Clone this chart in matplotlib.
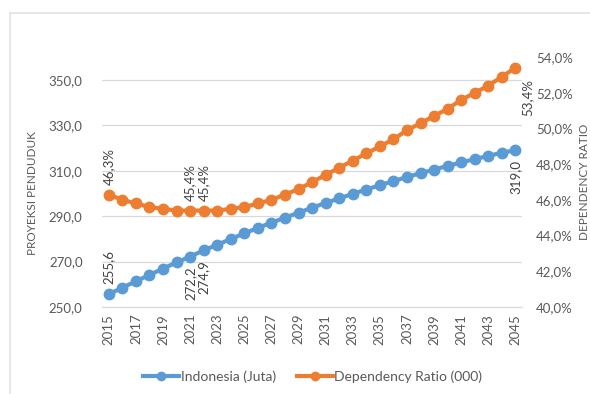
import matplotlib.pyplot as plt
from matplotlib.ticker import FuncFormatter
from matplotlib.lines import Line2D
from matplotlib.patches import Rectangle

plt.rcParams['font.family'] = ['Lato', 'DejaVu Sans']

years = list(range(2015, 2046))

# proyeksi penduduk Indonesia (juta jiwa)
penduduk = [255.6, 258.5, 261.3, 264.1, 266.9, 269.6, 272.2, 274.9, 277.4, 279.9,
            282.4, 284.8, 287.1, 289.3, 291.5, 293.7, 295.8, 297.8, 299.8, 301.7,
            303.6, 305.4, 307.2, 308.9, 310.5, 312.1, 313.6, 315.1, 316.5, 317.9,
            319.0]

# dependency ratio (%)
dep_ratio = [46.3, 46.0, 45.8, 45.6, 45.5, 45.4, 45.4, 45.4, 45.4, 45.5,
             45.6, 45.8, 46.0, 46.3, 46.6, 47.0, 47.4, 47.8, 48.2, 48.6,
             49.0, 49.4, 49.9, 50.3, 50.7, 51.1, 51.6, 52.0, 52.4, 52.9,
             53.4]

# which points get a value label, and where (above / below)
pend_labels = {2015: 'above', 2021: 'below', 2022: 'below', 2045: 'below'}
dep_labels = {2015: 'above', 2021: 'above', 2022: 'above', 2045: 'right'}

blue = '#5B9BD5'
orange = '#ED7D31'
grey = '#595959'

def comma(v, dec=1):
    return ('{:.%df}' % dec).format(v).replace('.', ',')

fig = plt.figure(figsize=(5.9, 3.94), dpi=100)
fig.patch.set_facecolor('white')
fig.patches.append(Rectangle((10 / 590, -0.1), 1.2, 1 - 13 / 394 + 0.1,
                             transform=fig.transFigure, fill=False,
                             edgecolor='#e3e3e3', lw=1.2))

ax = fig.add_axes([0.173, 0.221, 0.712, 0.634])
ax2 = ax.twinx()

ax.plot(years, penduduk, color=blue, lw=3, marker='o', ms=7.5, zorder=3)
ax2.plot(years, dep_ratio, color=orange, lw=3, marker='o', ms=7.5, zorder=3)

ax.set_xlim(2014.5, 2045.5)
ax.set_ylim(250, 360)
ax.set_yticks([250, 270, 290, 310, 330, 350])
ax2.set_ylim(40, 54)
ax2.set_yticks([40, 42, 44, 46, 48, 50, 52, 54])
ax.set_xticks(years[::2])
ax.set_xticklabels([str(y) for y in years[::2]], rotation=90)

ax.yaxis.set_major_formatter(FuncFormatter(lambda v, p: comma(v)))
ax2.yaxis.set_major_formatter(FuncFormatter(lambda v, p: comma(v) + '%'))

ax.grid(axis='y', color='#d9d9d9', lw=0.9)
ax.set_axisbelow(True)
for a in (ax, ax2):
    for s in a.spines.values():
        s.set_visible(False)
    a.tick_params(length=0, colors=grey, labelsize=9.5)
ax.spines['bottom'].set_visible(True)
ax.spines['bottom'].set_color('#d9d9d9')
ax.tick_params(axis='x', pad=5)
ax.tick_params(axis='y', pad=14)
ax2.tick_params(axis='y', pad=10)

fig.text(32 / 590, 1 - 193 / 394, 'PROYEKSI PENDUDUK', rotation=90,
         color=grey, fontsize=8.5, ha='center', va='center')
fig.text(585 / 590, 1 - 182 / 394, 'DEPENDENCY RATIO', rotation=90,
         color=grey, fontsize=8.5, ha='center', va='center')

for y, v in zip(years, penduduk):
    if y in pend_labels:
        if pend_labels[y] == 'above':
            ax.annotate(comma(v), (y, v), xytext=(0, 7), textcoords='offset points',
                        rotation=90, ha='center', va='bottom', color='#404040', fontsize=9.5)
        else:
            ax.annotate(comma(v), (y, v), xytext=(0, -7), textcoords='offset points',
                        rotation=90, ha='center', va='top', color='#404040', fontsize=9.5)

for y, v in zip(years, dep_ratio):
    if y in dep_labels:
        txt = comma(v) + '%'
        if dep_labels[y] == 'above':
            ax2.annotate(txt, (y, v), xytext=(0, 7), textcoords='offset points',
                         rotation=90, ha='center', va='bottom', color='#404040', fontsize=9.5)
        else:
            ax2.annotate(txt, (y, v), xytext=(9, -8), textcoords='offset points',
                         rotation=90, ha='center', va='top', color='#404040', fontsize=9.5)

handles = [Line2D([], [], color=blue, lw=3, marker='o', ms=6),
           Line2D([], [], color=orange, lw=3, marker='o', ms=6)]
leg = fig.legend(handles, ['Indonesia (Juta)', 'Dependency Ratio (000)'],
                 loc='center', bbox_to_anchor=(0.53, 1 - 377 / 394), ncol=2,
                 frameon=False, fontsize=10, handlelength=2.6, handletextpad=0.1,
                 columnspacing=1.5)
for t in leg.get_texts():
    t.set_color(grey)

fig.savefig('out.png', dpi=100)
